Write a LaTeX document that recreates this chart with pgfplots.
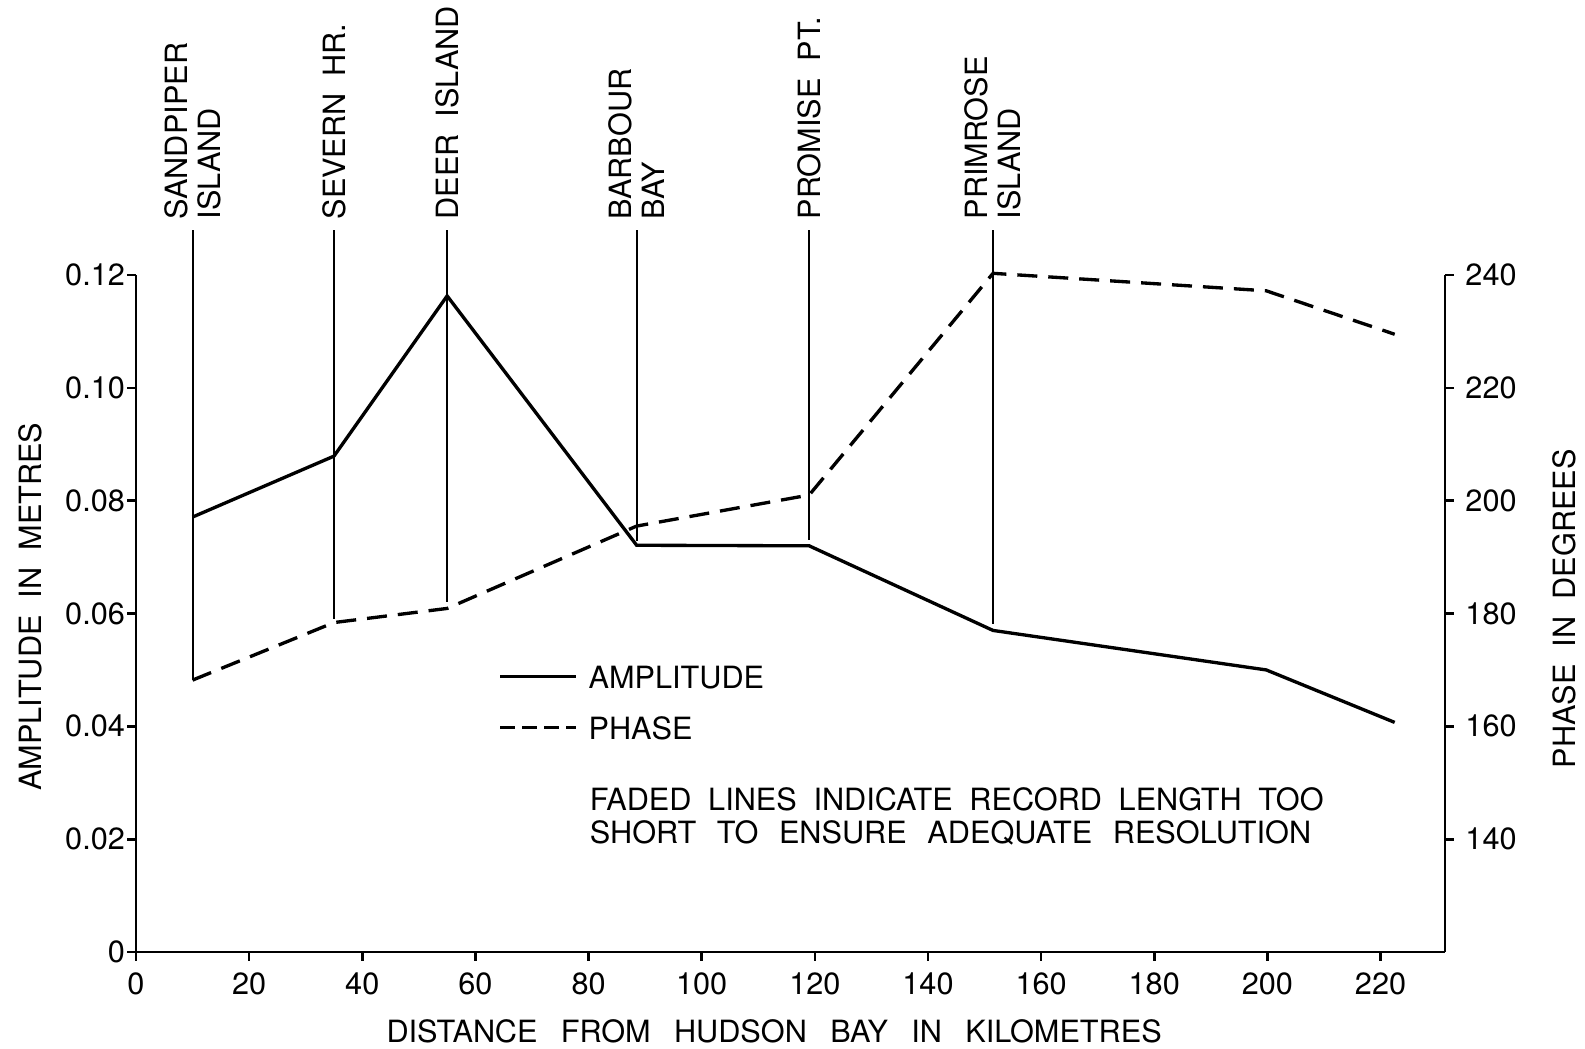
\documentclass[border=0pt]{standalone}
\usepackage{fontspec}
\setmainfont{TeX Gyre Heros}
\usepackage{pgfplots}
\pgfplotsset{compat=1.18}
\newcommand{\fnt}{\fontsize{9.2}{9.8}\selectfont}
\newcommand{\g}{\hspace{7pt}}
\begin{document}
\begin{tikzpicture}[font=\fnt]
\useasboundingbox (-40.8pt,-28.8pt) rectangle (434.7pt,285.6pt);
\begin{axis}[
  at={(0pt,0pt)}, anchor=south west,
  scale only axis, width=392.7pt, height=203.1pt,
  xmin=0, xmax=231.4, ymin=0, ymax=0.12,
  axis x line*=bottom, axis y line*=left,
  axis line style={line width=0.8pt},
  tick align=outside, major tick length=2.6pt,
  tick style={line width=0.8pt, black},
  xtick={0,20,40,60,80,100,120,140,160,180,200,220},
  xticklabels={0,20,40,60,80,100,120,140,160,180,200,220},
  ytick={0,0.02,0.04,0.06,0.08,0.1,0.12},
  yticklabels={0,0.02,0.04,0.06,0.08,0.10,0.12},
  minor tick num=0,
  /pgf/number format/assume math mode=true,
  tick label style={font=\fnt},
  yticklabel style={xshift=2.8pt},
  clip=false,
  xlabel={DISTANCE\g FROM\g HUDSON\g BAY\g IN\g KILOMETRES},
  ylabel={AMPLITUDE\ \ IN\ \ METRES},
  label style={font=\fnt},
  xlabel style={at={(axis description cs:0.4875,-0.117)}, anchor=center},
  ylabel style={at={(axis description cs:-0.0808,0.51)}, anchor=center},
  legend style={draw=none, fill=none, font=\fnt, at={(axis description cs:0.2765,0.3648)}, anchor=west,
    inner sep=0pt, row sep=6.9pt, column sep=3.3pt, nodes={inner sep=0pt}},
  legend cell align=left,
  legend image code/.code={\draw[#1] (0pt,0.9pt) -- (22.7pt,0.9pt);},
]
% amplitude
\addplot[black, line width=1pt] coordinates {
 (10,0.0771) (35,0.0879) (55,0.1163) (88.5,0.0721) (119,0.0720) (151.5,0.0570) (199.8,0.0500) (222.5,0.0407)};
\addlegendentry{AMPLITUDE}
\addlegendimage{black, line width=1pt, dash pattern=on 4.3pt off 2.3pt}
\addlegendentry{PHASE}
% station lines
\addplot[black, line width=0.6pt, forget plot] coordinates {(10,0.1279) (10,0.0482)};
\addplot[black, line width=0.6pt, forget plot] coordinates {(35,0.1279) (35,0.0590)};
\addplot[black, line width=0.6pt, forget plot] coordinates {(55,0.1279) (55,0.0621)};
\addplot[black, line width=0.6pt, forget plot] coordinates {(88.5,0.1279) (88.5,0.0728)};
\addplot[black, line width=0.6pt, forget plot] coordinates {(119,0.1279) (119,0.0730)};
\addplot[black, line width=0.6pt, forget plot] coordinates {(151.5,0.1279) (151.5,0.0582)};
% station labels
\node[rotate=90, anchor=west, align=left, inner sep=0pt] at ([yshift=3.1pt]axis cs:10,0.1279) {SANDPIPER\\ISLAND};
\node[rotate=90, anchor=west, align=left, inner sep=0pt] at ([yshift=3.1pt]axis cs:35,0.1279) {SEVERN\ \ HR.};
\node[rotate=90, anchor=west, align=left, inner sep=0pt] at ([yshift=3.1pt]axis cs:55,0.1279) {DEER\ \ ISLAND};
\node[rotate=90, anchor=west, align=left, inner sep=0pt] at ([yshift=3.1pt]axis cs:88.5,0.1279) {BARBOUR\\BAY};
\node[rotate=90, anchor=west, align=left, inner sep=0pt] at ([yshift=3.1pt]axis cs:119,0.1279) {PROMISE\ \ PT.};
\node[rotate=90, anchor=west, align=left, inner sep=0pt] at ([yshift=3.1pt]axis cs:151.5,0.1279) {PRIMROSE\\ISLAND};
% note
\node[anchor=base west, align=left, inner sep=0pt] at (axis cs:80.1,0.0193)
  {FADED\hspace{5pt}LINES\hspace{5pt}INDICATE\hspace{5pt}RECORD\hspace{5pt}LENGTH\hspace{5pt}TOO\\SHORT\hspace{6.2pt}TO\hspace{6.2pt}ENSURE\hspace{6.2pt}ADEQUATE\hspace{6.2pt}RESOLUTION};
\end{axis}
\begin{axis}[
  at={(0pt,0pt)}, anchor=south west,
  scale only axis, width=392.7pt, height=203.1pt,
  xmin=0, xmax=231.4, ymin=120, ymax=240,
  axis x line=none, axis y line*=right,
  axis line style={line width=0.8pt},
  tick align=outside, major tick length=2.6pt,
  tick style={line width=0.8pt, black},
  ytick={140,160,180,200,220,240},
  yticklabels={140,160,180,200,220,240},
  /pgf/number format/assume math mode=true,
  tick label style={font=\fnt},
  ylabel={PHASE\ \ IN\ \ DEGREES},
  label style={font=\fnt},
  ylabel style={at={(axis description cs:1.091,0.507)}, anchor=center, rotate=0},
  clip=false,
]
\addplot[black, line width=1pt, dash pattern=on 6pt off 3.3pt] coordinates {
 (10,168.2) (35,178.4) (55,180.9) (88.5,195.5) (119,201.0) (151.5,240.3) (199.8,237.2) (222.5,229.5)};
\end{axis}
\end{tikzpicture}
\end{document}
